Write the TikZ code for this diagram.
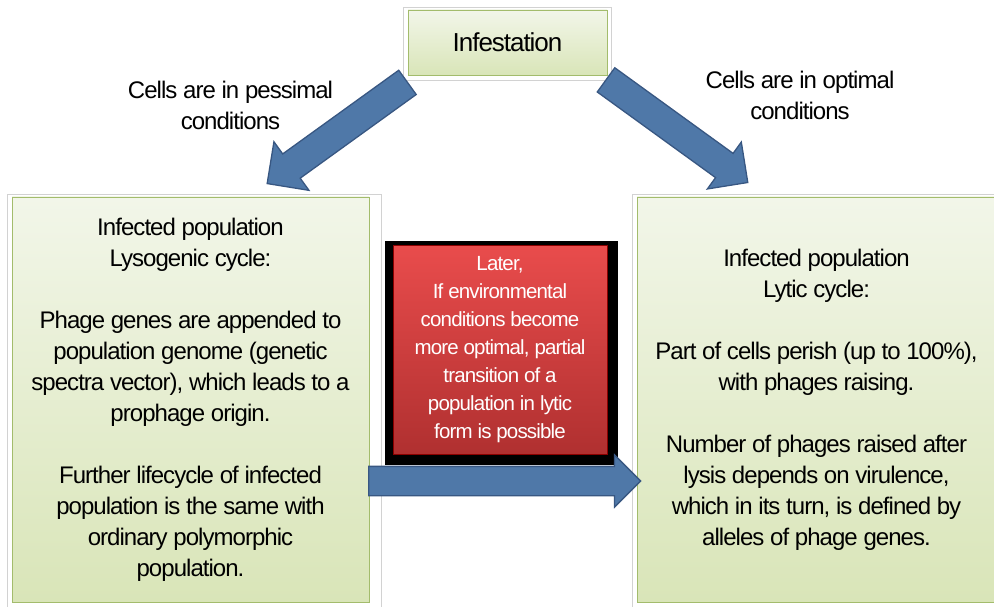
\documentclass[tikz,border=0pt]{standalone}
\usepackage{fontspec}
\setmainfont{Liberation Sans}
\newfontfamily\tightfont[LetterSpace=-4]{Liberation Sans}
\usetikzlibrary{shapes.arrows,positioning}

\definecolor{boxtop}{RGB}{242,246,233}
\definecolor{boxbot}{RGB}{217,229,184}
\definecolor{boxline}{RGB}{163,188,108}
\definecolor{redtop}{RGB}{233,76,76}
\definecolor{redbot}{RGB}{176,48,48}
\definecolor{arrowfill}{RGB}{79,120,168}
\definecolor{arrowline}{RGB}{56,87,130}

\tikzset{
  greenbox/.style={draw=boxline,line width=0.8pt,top color=boxtop,bottom color=boxbot,
    align=center,inner sep=0pt,font=\tightfont\fontsize{24}{31}\selectfont},
  redbox/.style={draw=red!55!black,line width=0.6pt,top color=redtop,bottom color=redbot,
    text=white,align=center,inner sep=0pt,font=\tightfont\fontsize{20.5}{28}\selectfont},
  frame/.style={draw=gray!35,line width=0.8pt},
  condlabel/.style={align=center,font=\tightfont\fontsize{24}{31}\selectfont},
  blockarrow/.style={single arrow,draw=arrowline,line width=1.3pt,fill=arrowfill,
    inner xsep=0pt,inner ysep=14.3pt,single arrow head extend=#1,anchor=tail},
  blockarrow/.default=15pt
}

\begin{document}
\begin{tikzpicture}[x=1pt,y=-1pt]
  \useasboundingbox (0,0) rectangle (994,607);
  % frames behind the boxes
  \draw[frame] (403,7) rectangle (611,80);
  \draw[frame] (7,194) rectangle (381,610);
  \draw[frame] (632,194) rectangle (1000,610);

  \node[greenbox,minimum width=199pt,minimum height=65pt,font=\tightfont\fontsize{26}{31}\selectfont]
    (infest) at (507.5,42.5) {Infestation};
  \node[greenbox,minimum width=357pt,minimum height=405pt] (lyso) at (190.5,399.5)
    {Infected population\\Lysogenic cycle:\\[31pt]
     Phage genes are appended to\\population genome (genetic\\spectra vector), which leads to a\\prophage origin.\\[31pt]
     Further lifecycle of infected\\population is the same with\\ordinary polymorphic\\population.};
  \node[greenbox,minimum width=359pt,minimum height=405pt] (lytic) at (816.5,399.5)
    {Infected population\\Lytic cycle:\\[31pt]
     Part of cells perish (up to 100\%),\\with phages raising.\\[31pt]
     Number of phages raised after\\lysis depends on virulence,\\which in its turn, is defined by\\alleles of phage genes.};

  % the red note on its black ground
  \node[fill=black,minimum width=233pt,minimum height=224pt,inner sep=0pt] (ground) at (501.5,353) {};
  \node[redbox,minimum width=214pt,minimum height=209pt] (later) at (500,349.5)
    {Later,\\If environmental\\conditions become\\more optimal, partial\\transition of a\\population in lytic\\form is possible};

  \node[condlabel] (pessimal) at (230.5,105.5) {Cells are in pessimal\\conditions};
  \node[condlabel] (optimal) at (800,95.5) {Cells are in optimal\\conditions};

  % block arrows
  \node[blockarrow=15pt,minimum height=173pt,rotate=215.8] (toLyso) at (408,82) {};
  \node[blockarrow=14pt,minimum height=175pt,rotate=-35.9] (toLytic) at (605.5,79.5) {};
  \node[blockarrow=11.5pt,inner ysep=14pt,minimum height=272pt] (toward) at (368,481) {};
\end{tikzpicture}
\end{document}
